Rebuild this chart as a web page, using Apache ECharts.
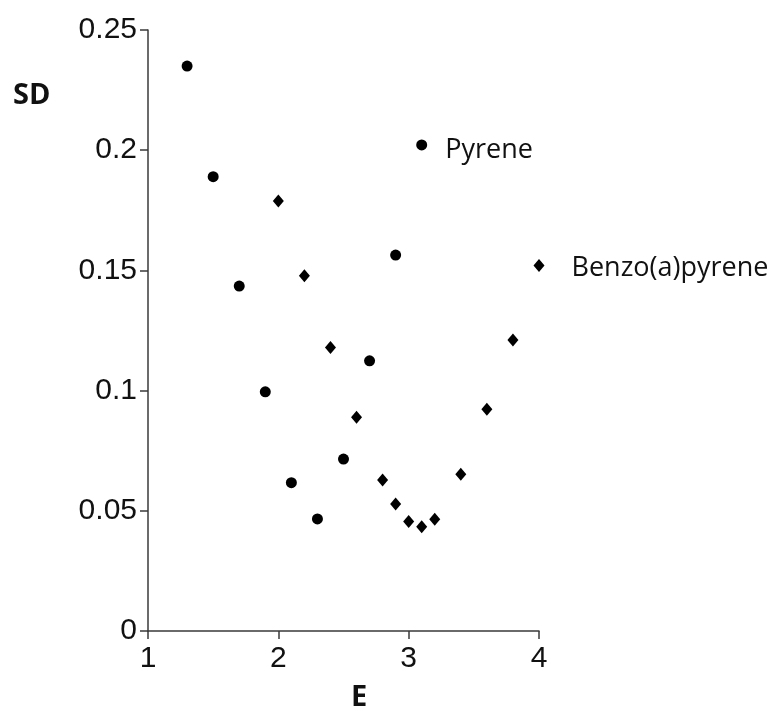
<!DOCTYPE html>
<html>
<head>
<meta charset="utf-8">
<script src="https://cdn.jsdelivr.net/npm/echarts@6/dist/echarts.min.js"></script>
<style>
  html, body { margin: 0; padding: 0; background: #fff; }
  #chart { width: 778px; height: 711px; }
</style>
</head>
<body>
<div id="chart"></div>
<script>
// E values and SD values for each compound
const pyreneE  = [1.3, 1.5, 1.7, 1.9, 2.1, 2.3, 2.5, 2.7, 2.9, 3.1];
const pyreneSD = [0.235, 0.189, 0.1435, 0.0995, 0.0617, 0.0466, 0.0715, 0.1124, 0.1564, 0.2022];

const bapE  = [2.0, 2.2, 2.4, 2.6, 2.8, 2.9, 3.0, 3.1, 3.2, 3.4, 3.6, 3.8, 4.0];
const bapSD = [0.1789, 0.1478, 0.1179, 0.0889, 0.0628, 0.0528, 0.0455, 0.0434, 0.0465, 0.0652, 0.0922, 0.121, 0.152];

const seriesNames = ['Pyrene', 'Benzo(a)pyrene'];

// Builds [E, SD] points; the last point of each compound carries its name
function pairs(xs, ys, name, labelOpts) {
  return xs.map((x, i) => {
    const item = { value: [x, ys[i]] };
    if (i === xs.length - 1) {
      item.label = Object.assign({ show: true, formatter: name }, labelOpts);
    }
    return item;
  });
}

const labelFont = { fontFamily: 'Open Sans', fontSize: 27, color: '#111', opacity: 1 };

const chart = echarts.init(document.getElementById('chart'), null, { renderer: 'canvas' });

chart.setOption({
  animation: false,
  backgroundColor: '#ffffff',
  grid: { left: 148, right: 239, top: 30, bottom: 80, containLabel: false },
  xAxis: {
    type: 'value',
    min: 1, max: 4, interval: 1,
    axisLine: { show: true, onZero: false, lineStyle: { color: '#3a3a3a', width: 1.5 } },
    axisTick: { show: true, length: 8, lineStyle: { color: '#3a3a3a', width: 1.5 } },
    axisLabel: { color: '#111', fontFamily: 'Liberation Sans', fontSize: 30, margin: 13 },
    splitLine: { show: false }
  },
  yAxis: {
    type: 'value',
    min: 0, max: 0.25, interval: 0.05,
    axisLine: { show: true, onZero: false, lineStyle: { color: '#3a3a3a', width: 1.5 } },
    axisTick: { show: true, length: 8, lineStyle: { color: '#3a3a3a', width: 1.5 } },
    axisLabel: { color: '#111', fontFamily: 'Liberation Sans', fontSize: 30, margin: 11 },
    splitLine: { show: false }
  },
  graphic: [
    { type: 'text', left: 13, top: 81,
      style: { text: 'SD', font: 'bold 29px "Open Sans"', fill: '#111' } },
    { type: 'text', left: 351, top: 683,
      style: { text: 'E', font: 'bold 29px "Open Sans"', fill: '#111' } }
  ],
  series: [
    {
      name: seriesNames[0],
      type: 'scatter',
      symbol: 'circle',
      symbolSize: 11,
      itemStyle: { color: '#000', opacity: 1 },
      label: labelFont,
      data: pairs(pyreneE, pyreneSD, seriesNames[0],
        Object.assign({ position: 'right', distance: 18, offset: [0, 5] }, labelFont))
    },
    {
      name: seriesNames[1],
      type: 'scatter',
      symbol: 'diamond',
      symbolSize: [11, 13],
      itemStyle: { color: '#000', opacity: 1 },
      label: labelFont,
      data: pairs(bapE, bapSD, seriesNames[1],
        Object.assign({ position: 'right', distance: 27, offset: [0, 3] }, labelFont))
    }
  ]
});
</script>
</body>
</html>
